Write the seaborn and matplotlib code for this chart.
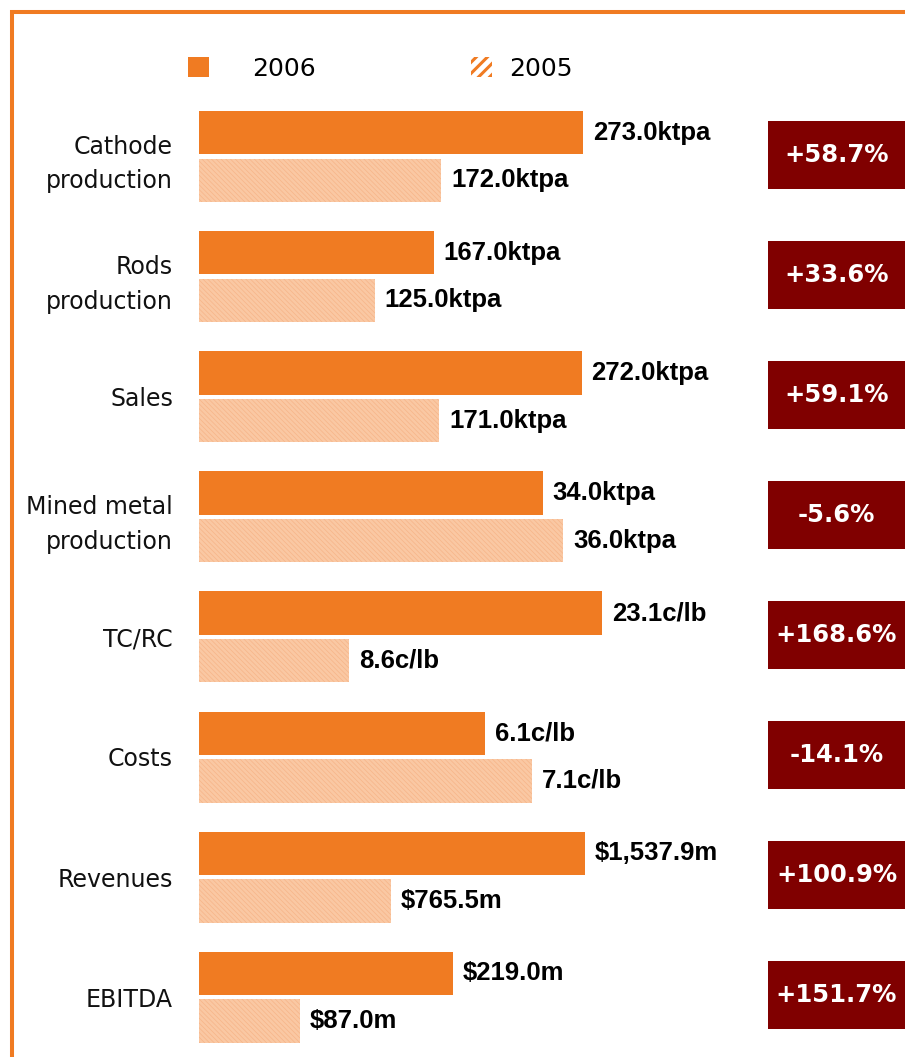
import numpy as np
import pandas as pd
import matplotlib
matplotlib.use("Agg")
import matplotlib.pyplot as plt
import seaborn as sns
from matplotlib.patches import Patch, Rectangle
from matplotlib.lines import Line2D
from matplotlib.legend_handler import HandlerPatch

# ---------------- data ----------------
categories = ["Cathode\nproduction", "Rods\nproduction", "Sales",
              "Mined metal\nproduction", "TC/RC", "Costs", "Revenues", "EBITDA"]
values_2006 = [273.0, 167.0, 272.0, 34.0, 23.1, 6.1, 1537.9, 219.0]
values_2005 = [172.0, 125.0, 171.0, 36.0, 8.6, 7.1, 765.5, 87.0]
prefixes = ["", "", "", "", "", "", "$", "$"]
suffixes = ["ktpa", "ktpa", "ktpa", "ktpa", "c/lb", "c/lb", "m", "m"]
axis_max = [320, 320, 320, 44.5, 25.8, 9.6, 1795, 388]   # per-row scale
years = ["2006", "2005"]

# ---------------- style ----------------
W, H = 905, 1057
sns.set_style("white")
plt.rcParams["font.family"] = ["DejaVu Sans"]
plt.rcParams["hatch.linewidth"] = 0.5
plt.rcParams["text.color"] = "black"
plt.rcParams["legend.labelcolor"] = "black"

ORANGE = "#F07B22"
LIGHT = "#FAC8A3"
HATCH = "#F6B488"
DARK = "#800000"


class ThickHatchRect(Rectangle):
    def draw(self, renderer):
        with plt.rc_context({"hatch.linewidth": 2.2}):
            if hasattr(self, "set_hatch_linewidth"):
                self.set_hatch_linewidth(2.2)
            super().draw(renderer)


def thick_patch(legend, orig_handle, xdescent, ydescent, width, height, fontsize):
    return ThickHatchRect((-xdescent, -ydescent), width, height)


fig = plt.figure(figsize=(W / 100, H / 100), dpi=100)

left_px, width_px = 199, 450
first_top, pitch, gh = 111, 120.1, 91

for i, cat in enumerate(categories):
    top = first_top + i * pitch
    ax = fig.add_axes([left_px / W, 1 - (top + gh) / H, width_px / W, gh / H])
    df = pd.DataFrame({"cat": [cat, cat], "year": years,
                       "value": [values_2006[i], values_2005[i]]})
    sns.barplot(data=df, x="value", y="cat", hue="year", hue_order=years,
                palette={"2006": ORANGE, "2005": LIGHT}, saturation=1,
                orient="h", gap=0.09, legend=False, ax=ax, linewidth=0)
    for p in ax.containers[1]:
        p.set_hatch("\\" * 7)
        p.set_edgecolor(HATCH)
        p.set_linewidth(0)
    ax.set_xlim(0, axis_max[i])
    ax.set_ylim(0.382, -0.382)
    ax.set_xticks([])
    ax.set_xlabel("")
    ax.set_ylabel("")
    for s in ax.spines.values():
        s.set_visible(False)
    ax.tick_params(axis="y", length=0, pad=18.7, labelsize=17)
    for t in ax.get_yticklabels():
        t.set_linespacing(1.55)
        t.set_color("#111111")
    for j, vals in enumerate([values_2006[i], values_2005[i]]):
        if prefixes[i] == "$":
            lab = f"${vals:,.1f}m"
        else:
            lab = f"{vals:.1f}{suffixes[i]}"
        ax.bar_label(ax.containers[j], labels=[lab], padding=7.2,
                     fontsize=18.5, fontweight="bold", family="Liberation Sans",
                     color="black")

    # change box
    pct = (values_2006[i] / values_2005[i] - 1) * 100
    c = top + gh / 2 - 2
    fig.add_artist(Rectangle((768 / W, 1 - (c + 34) / H), 137 / W, 68 / H,
                             transform=fig.transFigure, facecolor=DARK,
                             edgecolor="none"))
    fig.text(836.5 / W, 1 - c / H, f"{pct:+.1f}%", ha="center", va="center",
             color="white", fontweight="bold", fontsize=17.5)

# ---------------- legend ----------------
fig.legend(handles=[Patch(facecolor=ORANGE, linewidth=0)], labels=["2006"],
           loc="center left", bbox_to_anchor=(188 / W, 1 - 69 / H),
           frameon=False, handlelength=0.84, handleheight=0.84,
           handletextpad=1.74, borderpad=0, borderaxespad=0, fontsize=18,
           labelcolor="black")
hp = Patch(facecolor="white", edgecolor=ORANGE, hatch="///", linewidth=0)
fig.legend(handles=[hp], labels=["2005"],
           handler_map={hp: HandlerPatch(patch_func=thick_patch)},
           loc="center left", bbox_to_anchor=(471 / W, 1 - 69 / H),
           frameon=False, handlelength=0.84, handleheight=0.84,
           handletextpad=0.67, borderpad=0, borderaxespad=0, fontsize=18,
           labelcolor="black")

# ---------------- frame lines ----------------
fig.add_artist(Line2D([10 / W, 1], [1 - 12 / H, 1 - 12 / H], color=ORANGE,
                      lw=2.9, solid_capstyle="butt", transform=fig.transFigure))
fig.add_artist(Line2D([12 / W, 12 / W], [0, 1 - 10 / H], color=ORANGE,
                      lw=2.9, solid_capstyle="butt", transform=fig.transFigure))

fig.savefig("out.png", dpi=100, facecolor="white")
